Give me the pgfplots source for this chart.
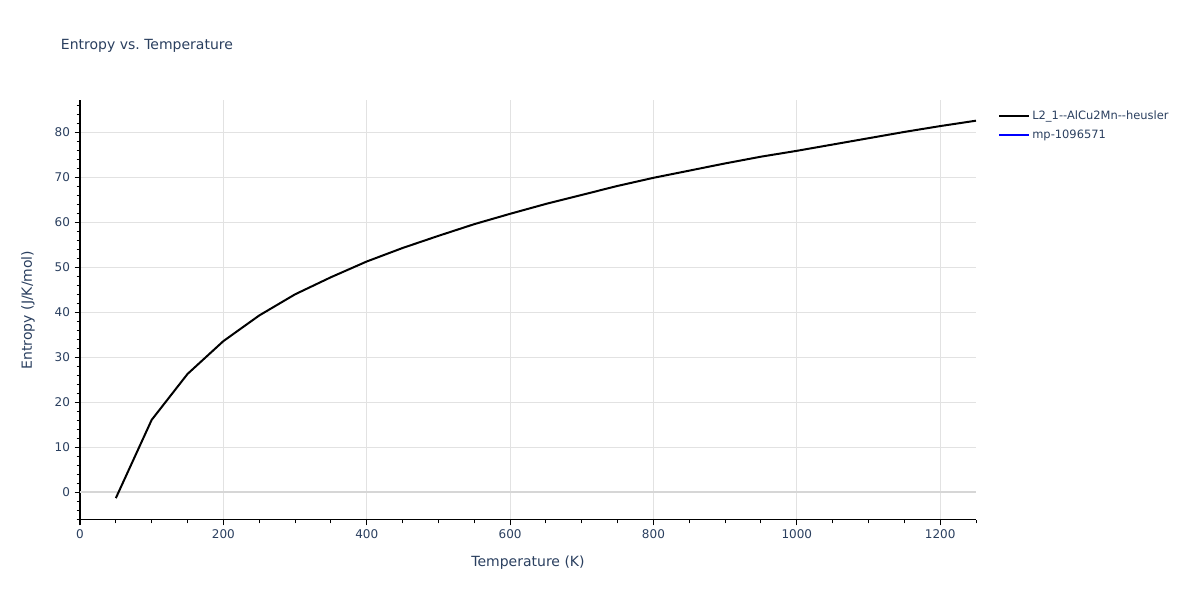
\documentclass[border=0pt]{standalone}
\usepackage{fontspec}
\setmainfont{DejaVu Sans}
\usepackage{pgfplots}
\pgfplotsset{compat=1.18}

\definecolor{txt}{HTML}{2A3F5F}
\definecolor{gridc}{HTML}{E2E2E2}
\definecolor{zeroc}{HTML}{D6D6D6}

\begin{document}
\begin{tikzpicture}[x=1pt,y=1pt]
\path[use as bounding box] (0,0) rectangle (900,450);
\node[anchor=base west, font=\fontsize{10.5}{12}\selectfont, text=txt, inner sep=0pt] at (45.5,412.5) {Entropy vs.\ Temperature};
\begin{axis}[
  at={(60pt,60pt)}, anchor=south west,
  scale only axis, width=672pt, height=315pt,
  xmin=0, xmax=1250, ymin=-6.16, ymax=87.2,
  axis x line*=bottom, axis y line*=left,
  axis line style={black, line width=0.75pt},
  xtick={0,200,...,1200}, ytick={0,10,...,80},
  minor xtick={50,100,...,1250}, minor ytick={-6,-4,...,86},
  tick align=outside,
  major tick length=4pt, minor tick length=2.5pt,
  tick style={black, line width=0.75pt},
  grid=major, major grid style={gridc, line width=0.75pt},
  minor grid style={draw=none},
  ticklabel style={font=\fontsize{9}{10}\selectfont, text=txt},
  /pgf/number format/assume math mode=true,
  /pgf/number format/1000 sep={},
  xlabel={Temperature (K)}, ylabel={Entropy (J/K/mol)},
  every axis x label/.style={at={(axis description cs:0.5,-0.1016)}, anchor=center,
    font=\fontsize{10.5}{12}\selectfont, text=txt},
  every axis y label/.style={at={(axis description cs:-0.058,0.5)}, anchor=center, rotate=90,
    font=\fontsize{10.5}{12}\selectfont, text=txt},
  clip=false,
  legend style={at={(1.0246,0.9810)}, anchor=north west, draw=none, fill=none,
    font=\fontsize{8.6}{10}\selectfont, text=txt, row sep=2pt, inner sep=0pt},
  legend cell align=left,
  legend image code/.code={\draw[#1, line width=1.5pt] (0pt,0pt) -- (22pt,0pt);},
]
\addplot[zeroc, line width=1.5pt, forget plot] coordinates {(0,0) (1250,0)};
\addplot[black, line width=1.5pt] coordinates {
(50,-1.3) (100,16.1) (150,26.3) (200,33.6) (250,39.3) (300,44.0) (350,47.8)
(400,51.3) (450,54.3) (500,57.0) (550,59.6) (600,61.9) (650,64.1) (700,66.1)
(750,68.1) (800,69.9) (850,71.5) (900,73.1) (950,74.6) (1000,75.9) (1050,77.3)
(1100,78.7) (1150,80.1) (1200,81.4) (1250,82.6)
};
\addlegendentry{L2\_1-{}-AlCu2Mn-{}-heusler}
\addlegendimage{blue}
\addlegendentry{mp-1096571}
\end{axis}
\end{tikzpicture}
\end{document}
